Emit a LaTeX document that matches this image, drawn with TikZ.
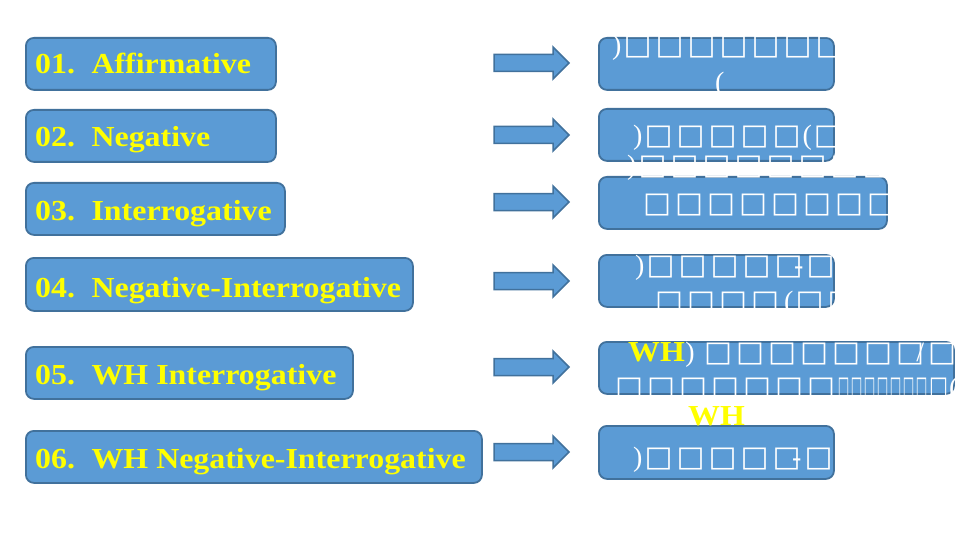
\documentclass[tikz,border=0pt]{standalone}
\usepackage{fontspec}
\usepackage{graphicx}
\setmainfont{Liberation Serif}
\newfontfamily\dvs{DejaVu Sans}
\definecolor{boxfill}{HTML}{5B9BD5}
\definecolor{boxline}{HTML}{41719C}
\definecolor{yel}{HTML}{FFFF00}
\newcommand\tf{\makebox[32pt][c]{\resizebox*{28pt}{22pt}{\dvs\bfseries □}}}
\newcommand\tn{\makebox[13pt][c]{\resizebox*{11.5pt}{22pt}{\dvs\bfseries □}}}
\newcommand\tm{\makebox[21pt][c]{\resizebox*{19pt}{22pt}{\dvs\bfseries □}}}
\newcommand\wide[1]{\scalebox{1.1}[1]{#1}}
\tikzset{
  blbox/.style={draw=boxline, fill=boxfill, line width=1.8pt, rounded corners=8pt,
    rectangle, anchor=north west, inner sep=0pt, minimum height=52pt},
  ltext/.style={text=yel, font=\fontsize{29}{29}\selectfont\bfseries, anchor=base west, inner sep=0pt},
  rtext/.style={text=white, font=\fontsize{28}{28}\selectfont, anchor=base west, inner sep=0pt},
  ytext/.style={text=yel, font=\fontsize{29}{29}\selectfont\bfseries, anchor=base west, inner sep=0pt},
  barrow/.style={draw=boxline, fill=boxfill, line width=1.5pt, line join=miter}
}
\begin{document}
\begin{tikzpicture}[x=1pt, y=-1pt]
\useasboundingbox (0,0) rectangle (960,540);
% left boxes
\node[blbox, minimum width=250pt] (l1) at (25,37) {};
\node[blbox, minimum width=250pt] (l2) at (25,109) {};
\node[blbox, minimum width=259pt] (l3) at (25,182) {};
\node[blbox, minimum width=387pt, minimum height=53pt] (l4) at (25,257) {};
\node[blbox, minimum width=327pt] (l5) at (25,346) {};
\node[blbox, minimum width=456pt] (l6) at (25,430) {};
% right boxes
\node[blbox, minimum width=235pt] (r1) at (598,37) {};
\node[blbox, minimum width=235pt] (r2) at (598,108) {};
\node[blbox, minimum width=288pt] (r3) at (598,176) {};
\node[blbox, minimum width=235pt] (r4) at (598,254) {};
\node[blbox, minimum width=355pt] (r5) at (598,341) {};
\node[blbox, minimum width=235pt, minimum height=53pt] (r6) at (598,425) {};
% arrows
\foreach \n/\yy in {1/63, 2/135, 3/202, 4/281, 5/367, 6/452} {
  \coordinate (a\n) at (494,\yy);
  \draw[barrow] (a\n) ++(0,-8.5) -- ++(59,0) -- ++(0,-7.5) -- ++(16,16) -- ++(-16,16) -- ++(0,-7.5) -- ++(-59,0) -- cycle;
}
% left texts
\node[ltext] (t1) at (35,74) {\wide{01.\hspace{15pt}Affirmative}};
\node[ltext] (t2) at (35,147) {\wide{02.\hspace{15pt}Negative}};
\node[ltext] (t3) at (35,220) {\wide{03.\hspace{15pt}Interrogative}};
\node[ltext] (t4) at (35,297) {\wide{04.\hspace{15pt}Negative-Interrogative}};
\node[ltext] (t5) at (35,384) {\wide{05.\hspace{15pt}WH Interrogative}};
\node[ltext] (t6) at (35,468) {\wide{06.\hspace{15pt}WH Negative-Interrogative}};
% right texts
\node[rtext] (u1a) at (612,55) {)\tf\tf\tf\tf\tf\tf\tf\tf};
\node[rtext] (u1b) at (715,92) {(};
\node[rtext] (u2a) at (633,145) {)\tf\tf\tf\tf\tf(\tf};
\node[rtext] (u2b) at (627,175) {)\tf\tf\tf\tf\tf\tf\tf\tf};
\node[rtext] (u3) at (641,212) {\tf\tf\tf\tf\tf\tf\tf\tf\tf};
\node[rtext] (u4a) at (635,274) {)\tf\tf\tf\tf\tf\llap{-\hspace{1pt}}\tf};
\node[rtext] (u4b) at (653,310) {\tf\tf\tf\tf\hspace{3pt}(\tf\tf};
\node[ytext] (w5a) at (628,361) {\wide{WH}};
\node[rtext, anchor=base west] (u5a) at (w5a.base east) {)\hspace{7.5pt}\tf\tf\tf\tf\tf\tf\tf\llap{/\hspace{2pt}}\tf};
\node[rtext] (u5b) at (613,396) {\tf\tf\tf\tf\tf\tf\tf\tn\tn\tn\tn\tn\tn\tn\tm(};
\node[ytext] (w5b) at (688,425) {\wide{WH}};
\node[rtext] (u6) at (633,466) {)\tf\tf\tf\tf\tf\llap{-\hspace{1pt}}\tf};
\end{tikzpicture}
\end{document}
